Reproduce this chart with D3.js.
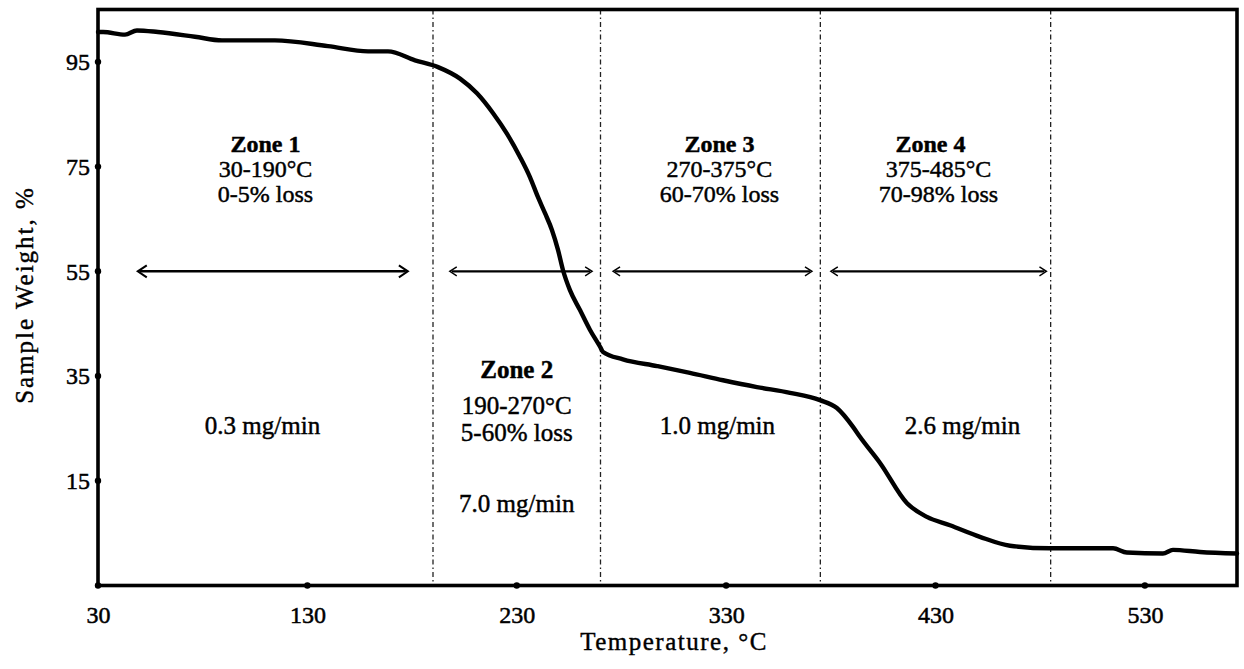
<!DOCTYPE html>
<html>
<head>
<meta charset="utf-8">
<script src="https://cdn.jsdelivr.net/npm/d3@7"></script>
<style>
  html, body { margin: 0; padding: 0; background: #fff; }
  svg text { font-family: "Liberation Serif", "Times New Roman", serif; fill: #000; }
</style>
</head>
<body>
<svg id="chart" width="1244" height="669"></svg>
<script>
// Thermogravimetric curve: sample weight (%) against temperature (°C)
const temperature = [30, 32.4, 42.9, 48.6, 58.6, 76.3, 89.2, 114.5, 139.8, 159.0, 168.5, 181.4,
  192.4, 202.9, 211.0, 218.7, 225.3, 231.5, 236.3, 240.1, 243.5, 246.8, 249.7, 252.1, 255.4,
  260.2, 265.0, 269.8, 271.2, 280.7, 297.0, 312.7, 328.5, 344.7, 360.5, 374.8, 382.9, 390.6,
  393.9, 403.5, 416.4, 425.9, 436.9, 451.2, 465.6, 484.7, 507.1, 514.8, 521.4, 538.6, 543.4,
  556.3, 574];
const weight = [100.7, 100.7, 100.2, 101.0, 100.7, 99.8, 99.1, 99.1, 98.0, 97.0, 97.0, 95.3,
  94.0, 91.8, 89.0, 85.2, 81.3, 76.9, 73.0, 69.2, 66.1, 62.9, 59.1, 55.2, 51.4,
  47.6, 43.8, 40.6, 39.6, 38.2, 36.9, 35.6, 34.2, 32.9, 31.8, 30.4, 28.9, 25.3,
  23.4, 18.4, 10.7, 8.1, 6.5, 4.3, 2.6, 2.1, 2.1, 2.1, 1.3, 1.1, 1.8,
  1.4, 1.1];

// Axis ticks
const xTicks = [30, 130, 230, 330, 430, 530];
const yTicks = [15, 35, 55, 75, 95];

// Decomposition zones
const zoneBounds = [190, 270, 375, 485];
const zoneStart = [30, 190, 270, 375];
const zoneEnd = [190, 270, 375, 485];
const zoneNames = ["Zone 1", "Zone 2", "Zone 3", "Zone 4"];
const zoneRanges = ["30-190°C", "190-270°C", "270-375°C", "375-485°C"];
const zoneLoss = ["0-5% loss", "5-60% loss", "60-70% loss", "70-98% loss"];
const zoneRates = ["0.3 mg/min", "7.0 mg/min", "1.0 mg/min", "2.6 mg/min"];

// Horizontal double arrows marking each zone's span
const arrowFrom = [49, 198, 276, 380];
const arrowTo = [178, 266, 371, 483];
const arrowLevel = 55;

const svg = d3.select("#chart");
const plotLeft = 98, plotRight = 1237, plotTop = 9.5, plotBottom = 585.5;

const x = d3.scaleLinear().domain([30, 574]).range([plotLeft, plotRight]);
const y = d3.scaleLinear().domain([-5, 105]).range([plotBottom, plotTop]);

// Zone boundary lines (dash-dot)
svg.append("g").selectAll("line")
  .data(zoneBounds)
  .join("line")
  .attr("x1", d => x(d)).attr("x2", d => x(d))
  .attr("y1", plotTop).attr("y2", plotBottom)
  .attr("stroke", "#222")
  .attr("stroke-width", 1.3)
  .attr("stroke-dasharray", "5,3,1.5,3");

// Zone arrows
const arrows = svg.append("g").attr("stroke", "#000").attr("fill", "none");
arrowFrom.forEach((a, i) => {
  const x0 = x(a), x1 = x(arrowTo[i]), yy = y(arrowLevel);
  const hw = i === 0 ? 9 : 7, hh = i === 0 ? 6 : 4.5;
  arrows.append("line")
    .attr("x1", x0 + 2).attr("x2", x1 - 2)
    .attr("y1", yy).attr("y2", yy)
    .attr("stroke-width", i === 0 ? 2.6 : 2.2);
  arrows.append("path")
    .attr("d", `M${x0 + hw},${yy - hh}L${x0},${yy}L${x0 + hw},${yy + hh}`)
    .attr("stroke-width", i === 0 ? 2 : 1.4);
  arrows.append("path")
    .attr("d", `M${x1 - hw},${yy - hh}L${x1},${yy}L${x1 - hw},${yy + hh}`)
    .attr("stroke-width", i === 0 ? 2 : 1.4);
});

// Weight loss curve
const line = d3.line()
  .x((d, i) => x(temperature[i]))
  .y(d => y(d))
  .curve(d3.curveMonotoneX);
svg.append("path")
  .datum(weight)
  .attr("d", line)
  .attr("fill", "none")
  .attr("stroke", "#000")
  .attr("stroke-width", 4.4)
  .attr("stroke-linejoin", "round")
  .attr("stroke-linecap", "round");

// Plot frame
svg.append("rect")
  .attr("x", plotLeft).attr("y", plotTop)
  .attr("width", plotRight - plotLeft).attr("height", plotBottom - plotTop)
  .attr("fill", "none")
  .attr("stroke", "#000")
  .attr("stroke-width", 3.6);

// Axes (labels only; ticks are drawn as dots)
const xAxis = svg.append("g")
  .attr("transform", `translate(0,${plotBottom})`)
  .call(d3.axisBottom(x).tickValues(xTicks).tickSize(0).tickPadding(20).tickFormat(d3.format("d")));
const yAxis = svg.append("g")
  .attr("transform", `translate(${plotLeft},0)`)
  .call(d3.axisLeft(y).tickValues(yTicks).tickSize(0).tickPadding(8).tickFormat(d3.format("d")));
[xAxis, yAxis].forEach(g => {
  g.select(".domain").remove();
  g.selectAll("text")
    .attr("font-family", "Liberation Serif")
    .attr("font-size", 24)
    .attr("fill", "#000")
    .attr("stroke", "#000").attr("stroke-width", 0.5);
});

svg.append("g").selectAll("circle")
  .data(xTicks).join("circle")
  .attr("cx", d => x(d)).attr("cy", plotBottom).attr("r", 3.2).attr("fill", "#000");
svg.append("g").selectAll("circle")
  .data(yTicks).join("circle")
  .attr("cx", plotLeft).attr("cy", d => y(d)).attr("r", 3.2).attr("fill", "#000");

// Axis titles
svg.append("text")
  .attr("x", 674).attr("y", 650)
  .attr("text-anchor", "middle")
  .attr("font-size", 25)
  .attr("letter-spacing", 1.5)
  .attr("stroke", "#000").attr("stroke-width", 0.4)
  .text("Temperature, °C");
svg.append("text")
  .attr("transform", "translate(33,295) rotate(-90)")
  .attr("text-anchor", "middle")
  .attr("font-size", 25)
  .attr("letter-spacing", 2)
  .attr("stroke", "#000").attr("stroke-width", 0.4)
  .text("Sample Weight, %");

// Zone annotations: each block is one text element with stacked lines
const labelNudge = [0, 0, 9, -5];
const subNudge = [0, 0, 0, 8];
const rateNudge = [-3, 0, 7, 27];
const labels = svg.append("g").attr("text-anchor", "middle")
  .attr("stroke", "#000").attr("stroke-width", 0.45);
zoneNames.forEach((name, i) => {
  const cx = x((zoneStart[i] + zoneEnd[i]) / 2) + labelNudge[i];
  const rows = i === 1
    ? [[name, 378, true], [zoneRanges[i], 414, false], [zoneLoss[i], 441, false], [zoneRates[i], 512, false]]
    : [[name, 152, true], [zoneRanges[i], 177, false], [zoneLoss[i], 202, false]];
  const block = labels.append("text").attr("font-size", i === 1 ? 25 : 24);
  rows.forEach(([t, yy, bold]) => {
    block.append("tspan")
      .attr("x", cx + (bold ? 0 : subNudge[i])).attr("y", yy)
      .attr("font-weight", bold ? "bold" : "normal")
      .text(t);
  });
  if (i !== 1) {
    labels.append("text")
      .attr("font-size", 25)
      .attr("x", x((zoneStart[i] + zoneEnd[i]) / 2) + rateNudge[i]).attr("y", 434)
      .text(zoneRates[i]);
  }
});
</script>
</body>
</html>
